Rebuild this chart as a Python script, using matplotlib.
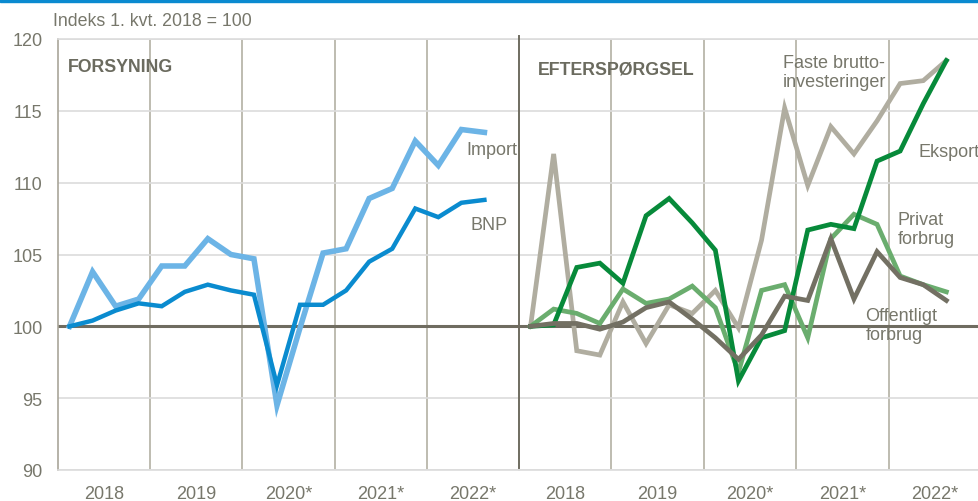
import matplotlib
matplotlib.use('Agg')
import matplotlib.pyplot as plt
from matplotlib.patches import Rectangle
from matplotlib.lines import Line2D

plt.rcParams['font.family'] = ['Liberation Sans', 'DejaVu Sans']

# quarterly index, 1. kvt. 2018 = 100 (2018K1 .. 2022K3)
years = ['2018', '2019', '2020*', '2021*', '2022*']

# supply side
bnp = [100, 100.4, 101.1, 101.6, 101.4, 102.4, 102.9, 102.5, 102.2, 95.9,
       101.5, 101.5, 102.5, 104.5, 105.4, 108.2, 107.6, 108.6, 108.8]
imp = [100, 103.8, 101.4, 101.9, 104.2, 104.2, 106.1, 105.0, 104.7, 94.5,
       99.9, 105.1, 105.4, 108.9, 109.6, 112.9, 111.2, 113.7, 113.5]

# demand side
faste = [100, 112.0, 98.3, 98.0, 101.7, 98.8, 101.5, 100.9, 102.5, 99.9,
         106.0, 115.2, 109.8, 113.9, 112.0, 114.3, 116.9, 117.1, 118.5]
eksport = [100, 100.1, 104.1, 104.4, 103.0, 107.7, 108.9, 107.2, 105.3, 96.2,
           99.2, 99.7, 106.7, 107.1, 106.8, 111.5, 112.2, 115.5, 118.5]
privat = [100, 101.2, 100.9, 100.2, 102.6, 101.6, 101.9, 102.8, 101.3, 96.8,
          102.5, 102.9, 99.2, 106.1, 107.8, 107.1, 103.5, 102.9, 102.4]
offentligt = [100, 100.2, 100.2, 99.8, 100.3, 101.3, 101.7, 100.5, 99.2, 97.7,
              99.4, 102.1, 101.8, 106.1, 101.9, 105.2, 103.4, 102.9, 101.8]

txt_col = '#77776b'
head_col = '#6b6b5f'
vgrid_col = '#b3b0a3'
hgrid_col = '#dcdcdc'
base_col = '#6f6c60'


def style_axis(ax, show_y):
    n_q = len(years) * 4
    ax.set_xlim(-0.5, n_q - 0.5)
    ax.set_ylim(90, 120)
    ax.set_yticks(range(90, 121, 5))
    ax.set_xticks([4 * i - 0.5 for i in range(1, len(years))])
    ax.set_xticklabels([])
    ax.set_xticks([4 * i + 1.5 for i in range(len(years))], minor=True)
    ax.set_xticklabels(years, minor=True)
    ax.tick_params(axis='both', which='both', length=0, labelsize=13,
                   colors=txt_col)
    ax.tick_params(axis='x', which='minor', pad=11)
    ax.tick_params(axis='y', pad=11)
    if not show_y:
        ax.set_yticklabels([])
    ax.grid(axis='y', color=hgrid_col, lw=1.2, zorder=0)
    ax.grid(axis='x', which='major', color=vgrid_col, lw=1.2, zorder=0)
    for s in ['top', 'bottom']:
        ax.spines[s].set_color(hgrid_col)
        ax.spines[s].set_linewidth(1.2)
    ax.spines['right'].set_visible(False)
    ax.spines['left'].set_color('#a9a69a')
    ax.spines['left'].set_linewidth(1.2)
    if not show_y:
        ax.spines['left'].set_visible(False)
    ax.axhline(100, color=base_col, lw=2.2, zorder=2)
    ax.set_axisbelow(True)


fig = plt.figure(figsize=(9.79, 5.02), dpi=100)
ax1 = fig.add_axes([58 / 979, 31 / 502, 461 / 979, 431 / 502])
ax2 = fig.add_axes([519 / 979, 31 / 502, 462 / 979, 431 / 502])
style_axis(ax1, True)
style_axis(ax2, False)

x = list(range(len(bnp)))
ax1.plot(x, imp, color='#6cb4e6', lw=4.0, zorder=3, solid_joinstyle='miter')
ax1.plot(x, bnp, color='#0a8bcf', lw=3.2, zorder=4, solid_joinstyle='miter')

ax2.plot(x, faste, color='#b0ada0', lw=3.4, zorder=3, solid_joinstyle='miter')
ax2.plot(x, privat, color='#6aad6e', lw=3.4, zorder=4, solid_joinstyle='miter')
ax2.plot(x, eksport, color='#078a3a', lw=3.4, zorder=5, solid_joinstyle='miter')
ax2.plot(x, offentligt, color='#737063', lw=3.4, zorder=6, solid_joinstyle='miter')

# labels
ax1.text(0.022, 0.937, 'FORSYNING', transform=ax1.transAxes, fontsize=12.8,
         fontweight='bold', color=head_col, va='center', ha='left')
ax2.text(0.040, 0.930, 'EFTERSPØRGSEL', transform=ax2.transAxes, fontsize=12.8,
         fontweight='bold', color=head_col, va='center', ha='left')
ax1.text(17.2, 112.3, 'Import', fontsize=13, color=txt_col, va='center')
ax1.text(17.4, 107.1, 'BNP', fontsize=13, color=txt_col, va='center')
ax2.text(10.93, 117.7, 'Faste brutto-\ninvesteringer', fontsize=13,
         color=txt_col, va='center', linespacing=1.15)
ax2.text(16.8, 112.2, 'Eksport', fontsize=13, color=txt_col, va='center')
ax2.text(15.9, 106.8, 'Privat\nforbrug', fontsize=13, color=txt_col,
         va='center', linespacing=1.15)
ax2.text(14.5, 100.1, 'Offentligt\nforbrug', fontsize=13, color=txt_col,
         va='center', linespacing=1.15)

fig.text(53 / 979, 1 - 21 / 502, 'Indeks 1. kvt. 2018 = 100', fontsize=12.8,
         color=txt_col, va='center', ha='left')

# divider between panels and top blue bar
fig.add_artist(Line2D([519 / 979, 519 / 979], [1 - 37 / 502, 1 - 469 / 502],
                      color=base_col, lw=1.4))
fig.add_artist(Rectangle((0, 1 - 3 / 502), 1, 3 / 502,
                         transform=fig.transFigure, color='#0a8ad0'))

fig.savefig('out.png', dpi=100)
